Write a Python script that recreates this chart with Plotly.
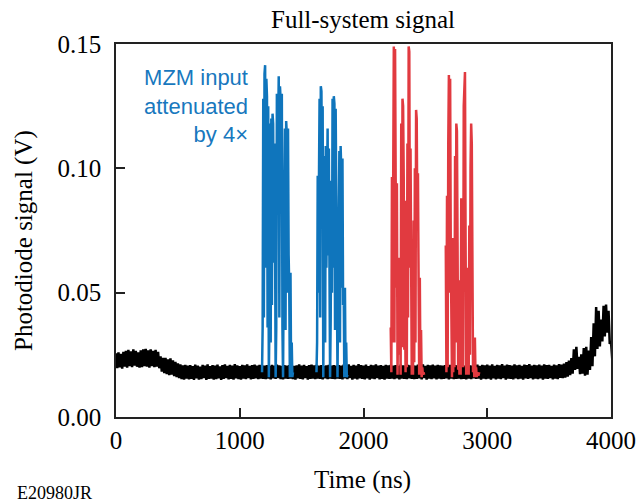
import plotly.graph_objects as go

# ---------------- data ----------------
# Black baseline trace: upper / lower excursions of the noisy signal, sampled every 20 ns (values in mV)
baseline_time_ns = list(range(0, 4001, 20))
baseline_hi_mV = [
    25.6, 26.0, 25.4, 26.2, 26.6, 27.0, 26.4, 27.2, 26.6, 26.0,
    26.8, 27.2, 27.4, 26.8, 27.2, 26.6, 27.0, 26.2, 24.4, 23.8,
    23.8, 23.2, 23.6, 22.8, 22.2, 21.6, 21.2, 20.8, 21.0, 20.7,
    20.9, 20.5, 21.1, 20.7, 20.3, 21.0, 20.7, 21.2, 20.5, 20.9,
    20.7, 21.1, 20.4, 20.9, 21.2, 20.6, 21.0, 20.7, 21.3, 20.8,
    20.5, 21.0, 20.8, 21.2, 20.6, 20.9, 21.1, 20.7, 21.0, 20.8,
    20.7, 20.9, 20.6, 21.0, 20.7, 21.1, 20.8, 20.6, 20.9, 20.7,
    20.9, 21.1, 20.6, 20.8, 21.2, 20.7, 21.0, 20.5, 20.9, 21.1,
    20.8, 21.0, 20.7, 20.9, 20.6, 20.8, 21.0, 20.7, 20.9, 20.7,
    20.9, 20.7, 21.1, 20.8, 21.2, 20.6, 21.0, 20.7, 21.3, 20.9,
    20.7, 21.1, 20.5, 21.0, 20.8, 21.2, 20.7, 20.9, 20.6, 21.0,
    20.8, 21.0, 20.7, 20.9, 20.6, 21.1, 20.8, 20.7, 21.0, 20.8,
    20.9, 20.7, 21.1, 20.8, 21.2, 20.6, 21.0, 20.8, 21.1, 20.7,
    21.0, 20.8, 20.7, 20.9, 20.6, 21.0, 20.7, 20.9, 20.8, 20.7,
    20.9, 20.7, 21.0, 20.8, 20.7, 20.9, 21.1, 20.6, 21.0, 20.8,
    21.1, 20.7, 21.2, 20.6, 21.0, 20.8, 21.3, 20.7, 21.1, 20.9,
    20.7, 21.2, 20.8, 21.0, 20.6, 21.1, 20.9, 21.3, 20.7, 21.0,
    20.8, 21.1, 20.7, 21.2, 20.9, 21.0, 20.6, 21.1, 20.8, 21.3,
    21.1, 21.5, 22.1, 22.7, 23.7, 27.2, 28.2, 24.2, 25.2, 27.7,
    28.2, 26.7, 32.2, 37.7, 44.2, 42.7, 39.2, 44.7, 45.2, 42.7,
    30.5,
]
baseline_lo_mV = [
    19.6, 20.0, 19.4, 20.2, 19.8, 20.4, 20.0, 20.6, 20.2, 19.8,
    20.0, 20.4, 20.2, 19.8, 20.4, 20.0, 20.2, 19.6, 18.2, 17.6,
    17.2, 16.8, 17.0, 16.4, 16.0, 15.6, 15.2, 15.0, 15.4, 15.1,
    15.3, 14.9, 15.5, 15.0, 15.2, 15.6, 14.9, 15.3, 15.4, 15.0,
    15.2, 15.5, 14.9, 15.3, 15.6, 15.1, 15.3, 15.0, 15.5, 15.2,
    15.0, 15.4, 15.2, 15.6, 15.1, 15.3, 15.5, 15.2, 15.4, 15.3,
    15.2, 15.4, 15.1, 15.5, 15.3, 15.6, 15.2, 15.1, 15.4, 15.3,
    15.4, 15.2, 15.0, 15.5, 15.3, 15.1, 15.6, 15.0, 15.3, 15.4,
    15.2, 15.4, 15.3, 15.1, 15.5, 15.2, 15.4, 15.3, 15.2, 15.4,
    15.3, 15.1, 15.5, 15.2, 15.6, 15.0, 15.4, 15.1, 15.5, 15.3,
    15.1, 15.5, 15.0, 15.4, 15.2, 15.6, 15.1, 15.3, 15.0, 15.4,
    15.3, 15.4, 15.2, 15.5, 15.1, 15.4, 15.3, 15.2, 15.5, 15.3,
    15.2, 15.3, 15.5, 15.1, 15.6, 15.0, 15.4, 15.2, 15.5, 15.1,
    15.4, 15.2, 15.3, 15.5, 15.1, 15.4, 15.2, 15.3, 15.4, 15.2,
    15.3, 15.1, 15.4, 15.2, 15.5, 15.3, 15.4, 15.0, 15.4, 15.2,
    15.4, 15.0, 15.5, 15.1, 15.4, 15.2, 15.6, 15.0, 15.4, 15.3,
    15.1, 15.5, 15.2, 15.4, 15.0, 15.5, 15.3, 15.6, 15.1, 15.4,
    15.2, 15.5, 15.0, 15.4, 15.3, 15.6, 15.1, 15.4, 15.2, 15.7,
    15.6, 15.8, 16.2, 16.8, 17.4, 18.9, 19.4, 17.2, 17.4, 16.6,
    17.0, 18.9, 20.4, 24.4, 27.4, 28.4, 30.4, 32.4, 33.9, 29.4,
    23.4,
]

# MZM-input bursts (blue, attenuated by 4x), sampled every 5 ns, volts
blue_burst1_time_ns = list(range(1180, 1431, 5))
blue_burst1_V = [
    0.018, 0.036,
    0.128, 0.040, 0.138, 0.1415, 0.060, 0.136, 0.129, 0.036, 0.125, 0.016,
    0.040,
    0.118, 0.030, 0.120, 0.045, 0.122, 0.118, 0.062, 0.110, 0.078, 0.016,
    0.036,
    0.130, 0.090, 0.134, 0.137, 0.040, 0.133, 0.128, 0.088, 0.130, 0.036, 0.016,
    0.060,
    0.093, 0.116, 0.035, 0.119, 0.114, 0.050, 0.116, 0.065, 0.052, 0.016,
    0.058, 0.017, 0.030, 0.016, 0.018,
]
blue_burst2_time_ns = list(range(1620, 1871, 5))
blue_burst2_V = [
    0.018, 0.030,
    0.097, 0.050, 0.095, 0.128, 0.040, 0.133, 0.131, 0.090, 0.125, 0.016,
    0.045,
    0.105, 0.030, 0.109, 0.060, 0.112, 0.116, 0.065, 0.108, 0.060, 0.016,
    0.040,
    0.095, 0.050, 0.128, 0.060, 0.129, 0.126, 0.035, 0.124, 0.089, 0.030, 0.016,
    0.050,
    0.085, 0.107, 0.030, 0.109, 0.100, 0.052, 0.104, 0.045, 0.052, 0.016,
    0.052, 0.017, 0.030, 0.016, 0.017,
]

# Full-system bursts (red), sampled every 5 ns, volts
red_burst1_time_ns = list(range(2220, 2491, 5))
red_burst1_V = [
    0.036, 0.018,
    0.0965, 0.030, 0.095, 0.149, 0.030, 0.148, 0.095, 0.052, 0.094, 0.017,
    0.045,
    0.064, 0.025, 0.050, 0.017, 0.118, 0.028, 0.128, 0.125, 0.0965, 0.027, 0.050,
    0.018,
    0.087, 0.020, 0.110, 0.040, 0.149, 0.147, 0.060, 0.108, 0.063, 0.017, 0.045,
    0.017,
    0.079, 0.022, 0.100, 0.030, 0.1235, 0.120, 0.079, 0.098, 0.056, 0.017, 0.056,
    0.017, 0.035, 0.016, 0.020, 0.017, 0.018, 0.017,
]
red_burst2_time_ns = list(range(2665, 2936, 5))
red_burst2_V = [
    0.069, 0.018, 0.089, 0.020, 0.110, 0.1375, 0.050, 0.136, 0.069, 0.025,
    0.016, 0.072, 0.018, 0.060, 0.020, 0.105, 0.030, 0.118, 0.115, 0.070,
    0.019, 0.055, 0.017, 0.040, 0.017, 0.088, 0.025, 0.070, 0.020, 0.125,
    0.138, 0.1387, 0.070, 0.017, 0.050, 0.017, 0.060, 0.017, 0.077, 0.025,
    0.100, 0.118, 0.110, 0.060, 0.018, 0.032, 0.016, 0.032, 0.017, 0.020,
    0.016, 0.018, 0.017, 0.017, 0.018,
]

x_tick_vals = [0, 1000, 2000, 3000, 4000]
x_tick_text = ["0", "1000", "2000", "3000", "4000"]
y_tick_vals = [0.0, 0.05, 0.10, 0.15]
y_tick_text = ["0.00", "0.05", "0.10", "0.15"]

# ---------------- build traces ----------------
bx, by = [], []
for t, hi, lo in zip(baseline_time_ns, baseline_hi_mV, baseline_lo_mV):
    bx += [t, t + 10]
    by += [hi / 1000.0, lo / 1000.0]

BLUE = "#0F75BC"
RED = "#E13A40"
BLACK = "#000000"

fig = go.Figure()
fig.add_trace(go.Scatter(x=bx, y=by, mode="lines",
                         line=dict(color=BLACK, width=2.5), hoverinfo="skip"))
fig.add_trace(go.Scatter(x=blue_burst1_time_ns + [None] + blue_burst2_time_ns,
                         y=blue_burst1_V + [None] + blue_burst2_V,
                         mode="lines", line=dict(color=BLUE, width=2.5)))
fig.add_trace(go.Scatter(x=red_burst1_time_ns + [None] + red_burst2_time_ns,
                         y=red_burst1_V + [None] + red_burst2_V,
                         mode="lines", line=dict(color=RED, width=2.5)))

SERIF = "Liberation Serif, Times New Roman, serif"
axis_common = dict(
    showline=True, linecolor="#222222", linewidth=1.5, mirror=True,
    ticks="inside", ticklen=9, tickwidth=1.5, tickcolor="#222222",
    showgrid=False, zeroline=False, automargin=False,
    tickfont=dict(family=SERIF, size=25, color="black"),
)

# Page body margin is removed (post_script below), so figure pixels = window pixels.
FIG_W, FIG_H = 642, 502
PLOT_L, PLOT_T, PLOT_W, PLOT_H = 116, 44, 495, 373
PLOT_B = PLOT_T + PLOT_H

fig.update_layout(
    width=FIG_W, height=FIG_H,
    margin=dict(l=PLOT_L, r=FIG_W - PLOT_L - PLOT_W, t=PLOT_T,
                b=FIG_H - PLOT_B, autoexpand=False),
    paper_bgcolor="white", plot_bgcolor="white",
    showlegend=False,
    font=dict(family=SERIF, color="black"),
    xaxis=dict(range=[0, 4000], tickvals=x_tick_vals, ticktext=x_tick_text,
               **axis_common),
    yaxis=dict(range=[0, 0.15], tickvals=y_tick_vals, ticktext=y_tick_text,
               ticklabelstandoff=8, **axis_common),
)


def win_to_paper(wx, wy):
    return (wx - PLOT_L) / PLOT_W, (PLOT_B - wy) / PLOT_H


tx, ty = win_to_paper(363, 19.5)
fig.add_annotation(text="Full-system signal", x=tx, y=ty, xref="paper", yref="paper",
                   xanchor="center", yanchor="middle", showarrow=False,
                   font=dict(family=SERIF, size=25, color="black"))
ax_, ay_ = win_to_paper(362, 480)
fig.add_annotation(text="Time (ns)", x=ax_, y=ay_, xref="paper", yref="paper",
                   xanchor="center", yanchor="middle", showarrow=False,
                   font=dict(family=SERIF, size=25, color="black"))
yx_, yy_ = win_to_paper(24, 241)
fig.add_annotation(text="Photodiode signal (V)", x=yx_, y=yy_, xref="paper", yref="paper",
                   xanchor="center", yanchor="middle", textangle=-90, showarrow=False,
                   font=dict(family=SERIF, size=25, color="black"))
mx, my = win_to_paper(250, 63)
fig.add_annotation(
    text="MZM input<br>attenuated<br>by 4×",
    x=mx, y=my, xref="paper", yref="paper",
    xanchor="right", yanchor="top", align="right", showarrow=False,
    font=dict(family="Liberation Sans, Arial, sans-serif", size=22, color="#1878BE"),
)
ex, ey = win_to_paper(15, 493)
fig.add_annotation(
    text="E20980JR", x=ex, y=ey, xref="paper", yref="paper",
    xanchor="left", yanchor="middle", showarrow=False,
    font=dict(family=SERIF, size=18, color="black"),
)

fig.write_html("out.html",
               config={"displayModeBar": False},
               post_script="document.body.style.margin='0px';document.body.style.overflow='hidden';")
